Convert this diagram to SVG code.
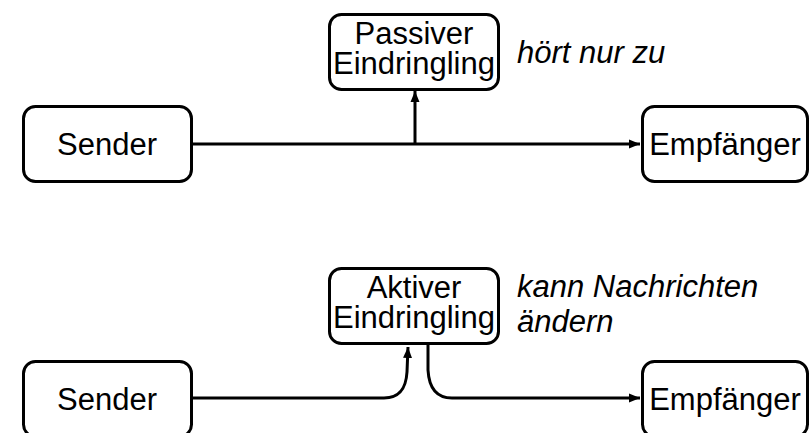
<svg xmlns="http://www.w3.org/2000/svg" width="809" height="433" viewBox="0 0 809 433">
  <defs>
    <marker id="arr" markerUnits="userSpaceOnUse" markerWidth="12" markerHeight="10" refX="11" refY="5" orient="auto">
      <path d="M0,0.5 L11,5 L0,9.5 z" fill="#000"/>
    </marker>
    <style>
      .box { fill: #fff; stroke: #000; stroke-width: 3; }
      .lbl { font-family: "Liberation Sans", Arial, sans-serif; font-size: 31px; fill: #000; text-anchor: middle; }
      .note { font-family: "Liberation Sans", Arial, sans-serif; font-size: 31px; font-style: italic; fill: #000; }
      .conn { fill: none; stroke: #000; stroke-width: 3; marker-end: url(#arr); }
    </style>
  </defs>
  <rect width="809" height="433" fill="#fff"/>

  <g id="connectors">
    <path class="conn" d="M193,144 H640"/>
    <path class="conn" d="M415,144 V91"/>
    <path class="conn" d="M193,398 H384 C400,398 406,388 407,372 L408,347"/>
    <path class="conn" d="M428,345 V370 C429,388 436,398 452,398 H640"/>
  </g>

  <g id="sender1">
    <rect class="box" x="23.5" y="106.5" width="168" height="75" rx="12"/>
    <text class="lbl" x="107" y="155">Sender</text>
  </g>
  <g id="passiv">
    <rect class="box" x="329.5" y="14.5" width="169" height="75" rx="12"/>
    <text class="lbl" x="414" y="44">Passiver<tspan x="414" dy="30">Eindringling</tspan></text>
  </g>
  <g id="empf1">
    <rect class="box" x="642.5" y="106.5" width="165" height="75" rx="12"/>
    <text class="lbl" x="725" y="155">Empfänger</text>
  </g>
  <g id="note1">
    <text class="note" x="517" y="63">hört nur zu</text>
  </g>

  <g id="sender2">
    <rect class="box" x="23.5" y="361.5" width="168" height="75" rx="12"/>
    <text class="lbl" x="107" y="410">Sender</text>
  </g>
  <g id="aktiv">
    <rect class="box" x="329.5" y="268.5" width="169" height="75" rx="12"/>
    <text class="lbl" x="414" y="298">Aktiver<tspan x="414" dy="30">Eindringling</tspan></text>
  </g>
  <g id="empf2">
    <rect class="box" x="642.5" y="361.5" width="165" height="75" rx="12"/>
    <text class="lbl" x="725" y="410">Empfänger</text>
  </g>
  <g id="note2">
    <text class="note" x="517" y="297">kann Nachrichten<tspan x="517" dy="35">ändern</tspan></text>
  </g>
</svg>
